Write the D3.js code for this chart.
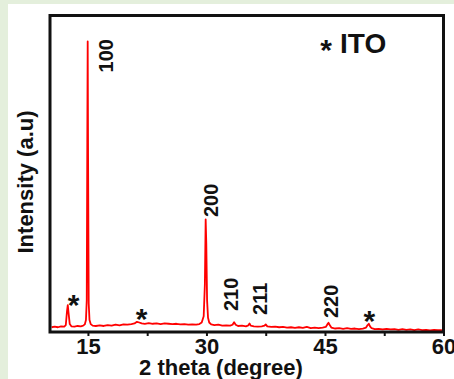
<!DOCTYPE html>
<html>
<head>
<meta charset="utf-8">
<script src="https://cdn.jsdelivr.net/npm/d3@7"></script>
<style>
  body { margin: 0; background: #e4efdc; }
  svg { display: block; }
  text { font-family: "Liberation Sans", Arial, sans-serif; font-weight: bold; fill: #111; }
</style>
</head>
<body>
<svg id="chart" width="454" height="379"></svg>
<script>
// XRD pattern, 2 theta (deg) and intensity (a.u.)
var twoTheta = [10.4, 10.8, 11.2, 11.6, 12.0, 12.2, 12.35, 12.45, 12.55, 12.7, 12.9, 13.3, 13.7, 14.1, 14.4,
  14.6, 14.75, 14.85, 14.92, 14.97, 15.02, 15.1, 15.2, 15.35, 15.6, 16.0, 16.5, 17.0, 17.5, 18.0, 18.5,
  19.0, 19.5, 20.0, 20.5, 20.9, 21.2, 21.5, 21.8, 22.2, 22.7, 23.2, 23.7, 24.2, 24.7, 25.2, 25.7, 26.2,
  26.7, 27.2, 27.7, 28.2, 28.7, 29.1, 29.4, 29.65, 29.8, 29.9, 29.98, 30.08, 30.2, 30.35, 30.6, 31.0,
  31.5, 32.0, 32.5, 33.0, 33.3, 33.5, 33.7, 34.0, 34.5, 35.0, 35.3, 35.45, 35.6, 36.0, 36.5, 37.0, 37.35,
  37.5, 37.7, 38.2, 38.7, 39.2, 39.7, 40.2, 40.7, 41.2, 41.7, 42.2, 42.7, 43.2, 43.7, 44.2, 44.7, 45.1,
  45.3, 45.45, 45.6, 45.8, 46.3, 46.8, 47.3, 47.8, 48.3, 48.8, 49.3, 49.8, 50.2, 50.4, 50.55, 50.7, 50.9,
  51.3, 51.8, 52.3, 52.8, 53.3, 53.8, 54.3, 54.8, 55.3, 55.8, 56.3, 56.8, 57.3, 57.8, 58.3, 58.8, 59.3, 59.8];
var intensity = [1.5, 1.7, 1.5, 1.8, 1.7, 2.2, 6.5, 8.5, 6.0, 2.5, 1.8, 1.7, 1.9, 1.8, 2.0,
  2.4, 3.8, 10, 60, 91.8, 55, 9, 3.8, 2.5, 2.0, 1.9, 2.1, 1.9, 2.2, 2.0, 2.3,
  2.1, 2.4, 2.3, 2.5, 2.7, 3.2, 3.0, 2.7, 2.6, 2.8, 2.6, 2.7, 2.5, 2.7, 2.6, 2.5, 2.6,
  2.4, 2.5, 2.3, 2.4, 2.3, 2.5, 3.0, 5, 15, 35.6, 28, 10, 4.5, 3.0, 2.4, 2.2,
  2.3, 2.0, 2.1, 2.0, 2.3, 3.1, 2.3, 1.9, 2.0, 1.8, 2.1, 2.7, 2.0, 1.8, 1.7, 1.8, 2.0,
  2.4, 1.8, 1.6, 1.7, 1.5, 1.6, 1.4, 1.5, 1.3, 1.5, 1.3, 1.6, 1.2, 1.4, 1.2, 1.4, 1.6,
  2.4, 2.9, 2.2, 1.4, 1.1, 1.2, 1.0, 1.2, 1.0, 1.1, 0.9, 1.1, 1.4, 2.2, 2.6, 1.8, 1.2,
  0.9, 1.0, 0.8, 1.0, 0.8, 0.9, 0.7, 0.9, 0.7, 0.8, 0.6, 0.8, 0.6, 0.7, 0.5, 0.7, 0.6, 0.6];

// peak labels: hkl text, 2 theta where it sits, intensity where the text starts
var hklText = ["100", "200", "210", "211", "220"];
var hklTheta = [17.3, 30.5, 33.1, 36.7, 45.7];
var hklLevel = [82, 36.3, 6.6, 5.4, 4.4];

// ITO peaks marked with a star
var itoTheta = [13.2, 21.8, 50.6];
var itoLevel = [10.7, 6.3, 5.7];

var xTicks = [15, 22.5, 30, 37.5, 45, 52.5, 60];

var svg = d3.select("#chart");
var plotLeft = 50, plotTop = 15.5, plotRight = 443.5, plotBottom = 332;

// white panel behind the figure
svg.append("rect")
  .attr("x", 8).attr("y", 4)
  .attr("width", 454).attr("height", 379)
  .attr("fill", "#fff");

var x = d3.scaleLinear().domain([10.2, 60]).range([plotLeft, plotRight]);
var y = d3.scaleLinear().domain([0, 100]).range([plotBottom, plotTop]);

var xAxis = d3.axisBottom(x)
  .tickValues(xTicks)
  .tickSize(4)
  .tickSizeOuter(0)
  .tickPadding(2)
  .tickFormat(function(d) { return d % 1 === 0 ? d : ""; });

var gx = svg.append("g")
  .attr("transform", "translate(0," + plotBottom + ")")
  .call(xAxis);
gx.select(".domain").remove();
gx.selectAll("line").attr("stroke", "#111").attr("stroke-width", 2);
gx.selectAll("text")
  .attr("font-size", 22)
  .attr("font-family", "Liberation Sans, Arial, sans-serif")
  .attr("font-weight", "bold")
  .attr("fill", "#111");

var pts = twoTheta.map(function(t, i) { return [t, intensity[i]]; });
var line = d3.line()
  .x(function(d) { return x(d[0]); })
  .y(function(d) { return y(d[1]); });

svg.append("path")
  .datum(pts)
  .attr("d", line)
  .attr("fill", "none")
  .attr("stroke", "#ff0000")
  .attr("stroke-width", 1.8)
  .attr("stroke-linejoin", "round");

// frame
svg.append("rect")
  .attr("x", plotLeft).attr("y", plotTop)
  .attr("width", plotRight - plotLeft).attr("height", plotBottom - plotTop)
  .attr("fill", "none")
  .attr("stroke", "#111")
  .attr("stroke-width", 3);

svg.selectAll(".hkl")
  .data(hklText)
  .enter().append("text")
  .attr("class", "hkl")
  .attr("transform", function(d, i) {
    return "translate(" + x(hklTheta[i]) + "," + y(hklLevel[i]) + ") rotate(-90)";
  })
  .attr("dy", "0.36em")
  .attr("font-size", 20)
  .text(function(d) { return d; });

svg.selectAll(".star")
  .data(itoTheta)
  .enter().append("text")
  .attr("class", "star")
  .attr("x", function(d) { return x(d); })
  .attr("y", function(d, i) { return y(itoLevel[i]) + 17; })
  .attr("text-anchor", "middle")
  .attr("font-size", 30)
  .text("*");

// legend
svg.append("text")
  .attr("x", 326).attr("y", 60)
  .attr("text-anchor", "middle")
  .attr("font-size", 30)
  .text("*");
svg.append("text")
  .attr("x", 340).attr("y", 53)
  .attr("font-size", 28)
  .text("ITO");

svg.append("text")
  .attr("x", 221).attr("y", 375)
  .attr("text-anchor", "middle")
  .attr("font-size", 22)
  .text("2 theta (degree)");

svg.append("text")
  .attr("transform", "translate(25,182) rotate(-90)")
  .attr("text-anchor", "middle")
  .attr("dy", "0.36em")
  .attr("font-size", 22)
  .text("Intensity (a.u)");
</script>
</body>
</html>
